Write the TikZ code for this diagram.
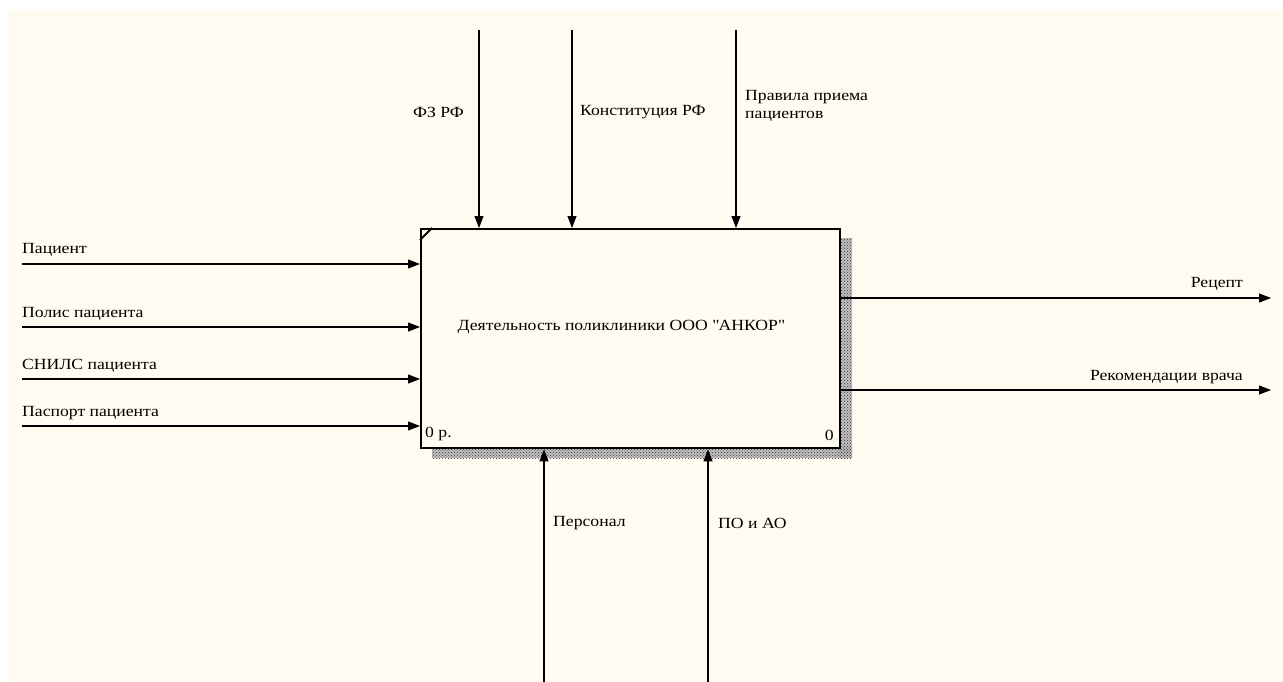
\documentclass[tikz,border=0pt]{standalone}
\usepackage{fontspec}
\setmainfont[FakeStretch=1.14]{Liberation Serif}
\usetikzlibrary{arrows.meta,patterns,calc}
\definecolor{bgcream}{RGB}{255,251,240}
\tikzset{
  conn/.style={line width=1.2pt,-{Triangle[length=12pt,width=9pt]}},
  lbl/.style={font=\fontsize{15.5}{18}\selectfont,inner sep=0pt,text=black},
  funcbox/.style={draw,line width=2.4pt,fill=bgcream,minimum width=419pt,minimum height=219pt,inner sep=0pt,anchor=north west},
  shadowfill/.style={fill=black!25},
  shadowpat/.style={pattern=crosshatch dots,pattern color=black!80}
}
\begin{document}
\begin{tikzpicture}[x=1pt,y=-1pt]
\useasboundingbox (0,0) rectangle (1283,682);
\fill[white] (0,0) rectangle (1283,682);
\fill[bgcream] (8,10) rectangle (1283,682);
% shadow
\fill[shadowfill] (839,238) rectangle (852,458);
\fill[shadowfill] (432,447) rectangle (852,458);
\fill[shadowpat] (839,238) rectangle (852,458);
\fill[shadowpat] (432,447) rectangle (852,458);
% box
\node[funcbox] (A0) at (420,228) {};
\draw[line width=1.8pt] ($(A0.north west)+(0,12)$) -- ($(A0.north west)+(12,0)$);
\node[lbl,anchor=center] (title) at (621,327) {Деятельность поликлиники ООО \textquotedbl АНКОР\textquotedbl};
\node[lbl,anchor=south west] (num) at (425,441) {0 р.};
\node[lbl,anchor=south east] (nr) at (834,441) {0};
% controls (top)
\coordinate (t1) at (479,30);
\coordinate (t2) at (572,30);
\coordinate (t3) at (736,30);
\draw[conn] (t1) -- (t1 |- A0.north);
\draw[conn] (t2) -- (t2 |- A0.north);
\draw[conn] (t3) -- (t3 |- A0.north);
\node[lbl,anchor=east] (lt1) at (464,112) {ФЗ РФ};
\node[lbl,anchor=west] (lt2) at (580,112) {Конституция РФ};
\node[lbl,anchor=west,align=left] (lt3) at (745,106) {Правила приема\\пациентов};
% inputs (left)
\coordinate (i1) at (22,264);
\coordinate (i2) at (22,327);
\coordinate (i3) at (22,379);
\coordinate (i4) at (22,426);
\draw[conn] (i1) -- (i1 -| A0.west);
\draw[conn] (i2) -- (i2 -| A0.west);
\draw[conn] (i3) -- (i3 -| A0.west);
\draw[conn] (i4) -- (i4 -| A0.west);
\node[lbl,anchor=west] (li1) at (22,250) {Пациент};
\node[lbl,anchor=west] (li2) at (22,314) {Полис пациента};
\node[lbl,anchor=west] (li3) at (22,366) {СНИЛС пациента};
\node[lbl,anchor=west] (li4) at (22,413) {Паспорт пациента};
% outputs (right)
\coordinate (o1) at (1271,298);
\coordinate (o2) at (1271,390);
\draw[conn] (o1 -| A0.east) -- (o1);
\draw[conn] (o2 -| A0.east) -- (o2);
\node[lbl,anchor=east] (lo1) at (1243,284) {Рецепт};
\node[lbl,anchor=east] (lo2) at (1243,377) {Рекомендации врача};
% mechanisms (bottom)
\coordinate (b1) at (544,682);
\coordinate (b2) at (708,682);
\draw[conn] (b1) -- (b1 |- A0.south);
\draw[conn] (b2) -- (b2 |- A0.south);
\node[lbl,anchor=west] (lb1) at (553,523) {Персонал};
\node[lbl,anchor=west] (lb2) at (718,523) {ПО и АО};
\end{tikzpicture}
\end{document}
